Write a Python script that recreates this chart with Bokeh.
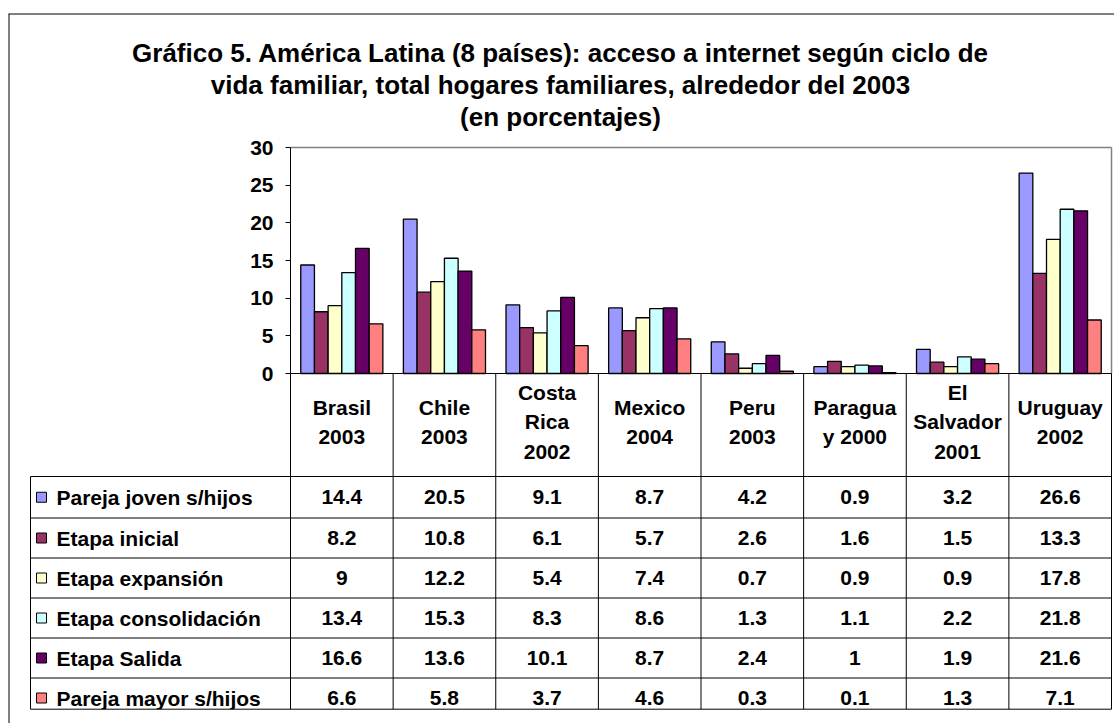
from bokeh.plotting import figure
from bokeh.models import Range1d, FixedTicker, LinearAxis
from bokeh.core.properties import value
from bokeh.embed import file_html
from bokeh.resources import INLINE

# ---------------- data ----------------
TITLE_LINES = [
    "Gráfico 5. América Latina (8 países): acceso a internet según ciclo de",
    "vida familiar, total hogares familiares, alrededor del 2003",
    "(en porcentajes)",
]
COUNTRIES = ["Brasil\n2003", "Chile\n2003", "Costa\nRica\n2002", "Mexico\n2004",
             "Peru\n2003", "Paragua\ny 2000", "El\nSalvador\n2001", "Uruguay\n2002"]
SERIES = ["Pareja joven s/hijos", "Etapa inicial", "Etapa expansión",
          "Etapa consolidación", "Etapa Salida", "Pareja mayor s/hijos"]
pareja_joven = [14.4, 20.5, 9.1, 8.7, 4.2, 0.9, 3.2, 26.6]
etapa_inicial = [8.2, 10.8, 6.1, 5.7, 2.6, 1.6, 1.5, 13.3]
etapa_expansion = [9, 12.2, 5.4, 7.4, 0.7, 0.9, 0.9, 17.8]
etapa_consolidacion = [13.4, 15.3, 8.3, 8.6, 1.3, 1.1, 2.2, 21.8]
etapa_salida = [16.6, 13.6, 10.1, 8.7, 2.4, 1, 1.9, 21.6]
pareja_mayor = [6.6, 5.8, 3.7, 4.6, 0.3, 0.1, 1.3, 7.1]
VALUES = [pareja_joven, etapa_inicial, etapa_expansion,
          etapa_consolidacion, etapa_salida, pareja_mayor]
COLORS = ["#9999FF", "#993366", "#FFFFCC", "#CCFFFF", "#660066", "#FF8080"]
Y_TICKS = [0, 5, 10, 15, 20, 25, 30]
Y_MAX = 30

# ---------------- layout (page pixels, canvas at page origin) ----------------
FONT = value("Liberation Sans")
W, H = 1114, 723
PLOT_L, PLOT_R, PLOT_T, PLOT_B = 290, 1111, 147, 373
N = len(COUNTRIES)
PX = (PLOT_R - PLOT_L) / N      # pixels per category
PY = (PLOT_B - PLOT_T) / Y_MAX  # pixels per percentage point
GAP = 1.5                       # excel gap width (150 %)
BW = 1.0 / (len(SERIES) + GAP)


def dx(page_x):
    return (page_x - PLOT_L) / PX


def dy(page_y):
    return (PLOT_B - page_y) / PY


p = figure(width=W, height=H,
           x_range=Range1d(dx(0), dx(W)), y_range=Range1d(dy(H), dy(0)),
           output_backend="svg", toolbar_location=None,
           x_axis_location=None, y_axis_location=None, min_border=0)
p.grid.visible = False
p.outline_line_color = None
p.background_fill_color = "white"
p.border_fill_color = "white"

# title
p.text(x=[dx(560)] * 3, y=[dy(52), dy(84), dy(116)], text=TITLE_LINES,
       text_font=FONT, text_font_style="bold", text_font_size="26px",
       text_align="center", text_baseline="alphabetic", text_color="black")

# plot area border (grey top/right)
p.segment(x0=[0, N], x1=[N, N], y0=[Y_MAX, 0], y1=[Y_MAX, Y_MAX],
          line_color="#808080", line_width=1.5)

# bars
for j, (name, vals) in enumerate(zip(SERIES, VALUES)):
    xs = [i + 0.5 + (j - (len(SERIES) - 1) / 2) * BW for i in range(N)]
    p.vbar(x=xs, top=vals, bottom=0, width=BW, fill_color=COLORS[j],
           line_color="black", line_width=1.3)

# y axis at x = 0
ya = LinearAxis(fixed_location=0, bounds=(0, Y_MAX),
                ticker=FixedTicker(ticks=Y_TICKS))
ya.major_label_text_font = "Liberation Sans"
ya.major_label_text_font_style = "bold"
ya.major_label_text_font_size = "21px"
ya.major_label_text_color = "black"
ya.major_tick_out = 5
ya.major_tick_in = 0
ya.minor_tick_out = 0
ya.minor_tick_in = 0
ya.major_label_standoff = 12
ya.axis_line_color = "black"
ya.major_tick_line_color = "black"
p.add_layout(ya, "left")

# ---------------- data table ----------------
HEADER_BOTTOM = 476
ROW_H = [41.5, 40, 40, 40, 40, 40]
TABLE_BOTTOM = 708.7
TABLE_L = 30
row_tops = []
t = HEADER_BOTTOM
for h in ROW_H:
    row_tops.append(t)
    t += h
row_mid = [rt + 20 for rt in row_tops]
row_mid[0] = row_tops[0] + ROW_H[0] / 2

# category headers
p.text(x=[i + 0.5 for i in range(N)], y=[dy(421.5)] * N,
       text=COUNTRIES, text_font=FONT, text_font_style="bold",
       text_font_size="21px", text_align="center", text_baseline="middle",
       text_line_height=1.3, text_color="black")

# values
vx, vy, vt = [], [], []
for j, vals in enumerate(VALUES):
    for i, v in enumerate(vals):
        vx.append(i + 0.5)
        vy.append(dy(row_mid[j]))
        vt.append(f"{v:g}")
p.text(x=vx, y=vy, text=vt, text_font=FONT, text_font_style="bold",
       text_font_size="21px", text_align="center", text_baseline="middle",
       text_color="black")

# legend keys + series names
p.scatter(x=[dx(41)] * len(SERIES), y=[dy(m) for m in row_mid], marker="square",
          size=10, fill_color=COLORS, line_color="black", line_width=1)
p.text(x=[dx(56)] * len(SERIES), y=[dy(m) for m in row_mid], text=SERIES,
       text_font=FONT, text_font_style="bold", text_font_size="21px",
       text_align="left", text_baseline="middle", text_color="black")

# the table is cut at its bottom edge (as in the source picture)
p.quad(left=[dx(TABLE_L - 2)], right=[dx(W)], bottom=[dy(H)],
       top=[dy(TABLE_BOTTOM)], fill_color="white", line_color=None)

# baseline (category axis) and column lines
p.segment(x0=[0], x1=[N], y0=[0], y1=[0], line_color="black", line_width=1)
p.segment(x0=list(range(N + 1)), x1=list(range(N + 1)),
          y0=[0] * (N + 1), y1=[dy(TABLE_BOTTOM)] * (N + 1),
          line_color="black", line_width=1)
p.segment(x0=[dx(TABLE_L)], x1=[dx(TABLE_L)], y0=[dy(HEADER_BOTTOM)],
          y1=[dy(TABLE_BOTTOM)], line_color="black", line_width=1)
hy = [dy(v) for v in row_tops + [TABLE_BOTTOM]]
p.segment(x0=[dx(TABLE_L)] * len(hy), x1=[N] * len(hy), y0=hy, y1=hy,
          line_color="black", line_width=1)

# outer chart border (top and left visible)
p.segment(x0=[dx(8.5), dx(8)], x1=[dx(8.5), dx(W)],
          y0=[dy(13.5), dy(13.5)], y1=[dy(H), dy(13.5)],
          line_color="black", line_width=1)

open("out.html", "w").write(file_html(p, INLINE))
